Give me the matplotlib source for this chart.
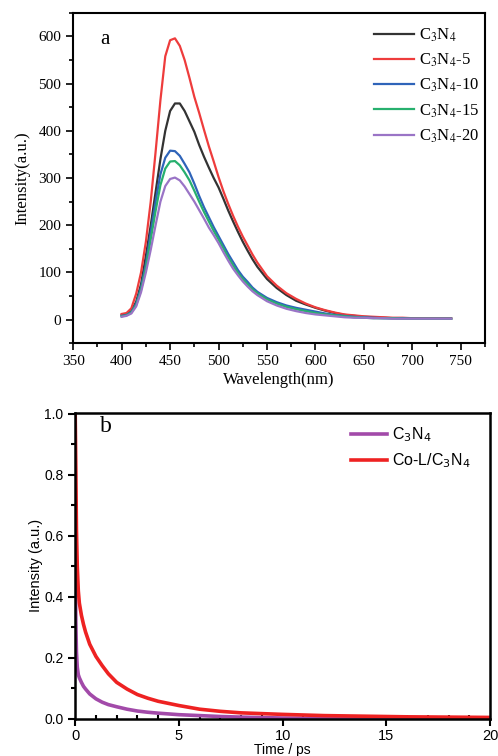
import matplotlib.pyplot as plt
from matplotlib.font_manager import FontProperties
from matplotlib.ticker import MultipleLocator

# ---- (a) steady-state PL spectra ----
wavelength = [400, 405, 410, 415, 420, 425, 430, 435, 440, 445, 450, 455, 460, 465,
              470, 475, 480, 485, 490, 495, 500, 505, 510, 515, 520, 525, 530, 535,
              540, 550, 560, 570, 580, 590, 600, 610, 620, 630, 640, 650, 660, 670,
              680, 690, 700, 710, 720, 730, 740]

c3n4 = [10, 12, 18, 38, 75, 135, 200, 270, 340, 400, 442, 458, 458, 442,
        420, 398, 370, 345, 322, 300, 280, 256, 231, 208, 186, 165, 146, 128,
        112, 86, 67, 52, 40, 32, 25, 19, 14, 10, 8, 6, 5, 4,
        3, 3, 3, 2, 2, 2, 2]
c3n4_5 = [12, 14, 24, 55, 100, 165, 250, 355, 465, 558, 592, 596, 580, 550,
          512, 472, 438, 402, 367, 335, 302, 272, 245, 220, 197, 176, 157, 138,
          121, 92, 72, 56, 44, 34, 26, 20, 15, 11, 9, 7, 6, 5,
          4, 4, 3, 3, 3, 3, 3]
c3n4_10 = [8, 10, 16, 34, 68, 118, 185, 250, 308, 343, 358, 357, 347, 330,
           312, 288, 262, 238, 217, 196, 177, 158, 139, 122, 105, 91, 80, 68,
           59, 46, 37, 30, 25, 21, 17, 13, 10, 8, 6, 5, 4, 3,
           3, 3, 2, 2, 2, 2, 2]
c3n4_15 = [7, 9, 15, 31, 63, 110, 170, 230, 285, 320, 335, 336, 327, 312,
           295, 273, 250, 228, 208, 188, 170, 151, 132, 115, 99, 86, 75, 64,
           56, 43, 34, 27, 22, 18, 14, 11, 9, 7, 5, 4, 3, 3,
           3, 2, 2, 2, 2, 2, 2]
c3n4_20 = [6, 8, 13, 28, 58, 100, 148, 200, 250, 283, 298, 301, 295, 282,
           266, 250, 232, 214, 195, 179, 162, 143, 125, 108, 94, 81, 70, 60,
           52, 39, 30, 23, 18, 14, 11, 9, 7, 5, 4, 4, 3, 3,
           2, 2, 2, 2, 2, 2, 2]

pl_labels = ['C$_3$N$_4$', 'C$_3$N$_4$-5', 'C$_3$N$_4$-10', 'C$_3$N$_4$-15', 'C$_3$N$_4$-20']
pl_colors = ['#333333', '#ee3c3c', '#2f64b9', '#27b06e', '#9a74c6']

# ---- (b) transient decay ----
time_ps = [0, 0.03, 0.06, 0.1, 0.15, 0.2, 0.3, 0.4, 0.5, 0.7, 1.0, 1.3, 1.6, 2.0,
           2.5, 3.0, 3.5, 4.0, 5.0, 6.0, 7.0, 8.0, 10, 12, 14, 16, 18, 20]
decay_c3n4 = [0.52, 0.32, 0.22, 0.17, 0.145, 0.135, 0.12, 0.107, 0.098, 0.082, 0.066,
              0.055, 0.047, 0.040, 0.032, 0.026, 0.022, 0.019, 0.014, 0.011, 0.008,
              0.006, 0.003, 0.002, 0.001, 0.001, 0.0, 0.0]
decay_col = [1.0, 0.82, 0.62, 0.50, 0.42, 0.38, 0.34, 0.31, 0.285, 0.245, 0.205,
             0.175, 0.148, 0.120, 0.098, 0.080, 0.068, 0.058, 0.044, 0.032, 0.025,
             0.020, 0.015, 0.011, 0.009, 0.007, 0.006, 0.005]

serif = 'Liberation Serif'
sans = 'Liberation Sans'

fig = plt.figure(figsize=(4.98, 7.56), dpi=100)

# ---------- panel a ----------
ax1 = fig.add_axes([0.147, 0.546, 0.827, 0.437])
series = [c3n4, c3n4_5, c3n4_10, c3n4_15, c3n4_20]
for y, lab, col in zip(series, pl_labels, pl_colors):
    ax1.plot(wavelength, y, color=col, lw=1.6, label=lab)

ax1.set_xlim(350, 775)
ax1.set_ylim(-50, 650)
ax1.xaxis.set_major_locator(MultipleLocator(50))
ax1.xaxis.set_minor_locator(MultipleLocator(25))
ax1.yaxis.set_major_locator(MultipleLocator(100))
ax1.yaxis.set_minor_locator(MultipleLocator(50))
ax1.tick_params(which='both', direction='out', top=False, right=False, width=1.2)
ax1.tick_params(which='major', length=5, labelsize=11)
ax1.tick_params(which='minor', length=3)
for t in ax1.get_xticklabels() + ax1.get_yticklabels():
    t.set_fontfamily(serif)
for s in ax1.spines.values():
    s.set_linewidth(1.5)

ax1.set_xlabel('Wavelength(nm)', fontfamily=serif, fontsize=12, labelpad=3)
ax1.set_ylabel('Intensity(a.u.)', fontfamily=serif, fontsize=12, labelpad=6)
ax1.text(0.066, 0.918, 'a', transform=ax1.transAxes, fontfamily=serif, fontsize=15,
         va='center', ha='left')
ax1.legend(loc='upper right', frameon=False, handlelength=2.4, handletextpad=0.3,
           labelspacing=0.47, borderaxespad=0.3, bbox_to_anchor=(1.015, 0.994),
           prop=FontProperties(family=serif, size=12, math_fontfamily='stix'))

# ---------- panel b ----------
ax2 = fig.add_axes([0.151, 0.049, 0.833, 0.405])
ax2.plot(time_ps, decay_c3n4, color='#a24aa9', lw=2.6, label='C$_3$N$_4$')
ax2.plot(time_ps, decay_col, color='#ee2222', lw=2.6, label='Co-L/C$_3$N$_4$')

ax2.set_xlim(0, 20)
ax2.set_ylim(0, 1.004)
ax2.xaxis.set_major_locator(MultipleLocator(5))
ax2.xaxis.set_minor_locator(MultipleLocator(1))
ax2.yaxis.set_major_locator(MultipleLocator(0.2))
ax2.yaxis.set_minor_locator(MultipleLocator(0.1))
ax2.tick_params(which='both', top=False, right=False, width=1.5)
ax2.tick_params(axis='y', which='major', direction='out', length=5, labelsize=10)
ax2.tick_params(axis='y', which='minor', direction='out', length=3)
ax2.tick_params(axis='x', which='major', direction='out', length=5, labelsize=10.5, pad=2)
ax2.tick_params(axis='x', which='minor', direction='in', length=3)
for t in ax2.get_xticklabels() + ax2.get_yticklabels():
    t.set_fontfamily(sans)
for s in ax2.spines.values():
    s.set_linewidth(1.8)

ax2.set_xlabel('Time / ps', fontfamily=sans, fontsize=10, labelpad=0.5)
ax2.set_ylabel('Intensity (a.u.)', fontfamily=sans, fontsize=10.5, labelpad=1)
ax2.text(0.06, 0.954, 'b', transform=ax2.transAxes, fontfamily=serif, fontsize=17,
         va='center', ha='left')
ax2.legend(loc='upper right', frameon=False, handlelength=2.25, handletextpad=0.3,
           labelspacing=0.45, borderaxespad=0.3, bbox_to_anchor=(0.98, 0.995),
           prop=FontProperties(family=sans, size=11.5, math_fontfamily='dejavusans'))

fig.savefig('out.png', dpi=100)
